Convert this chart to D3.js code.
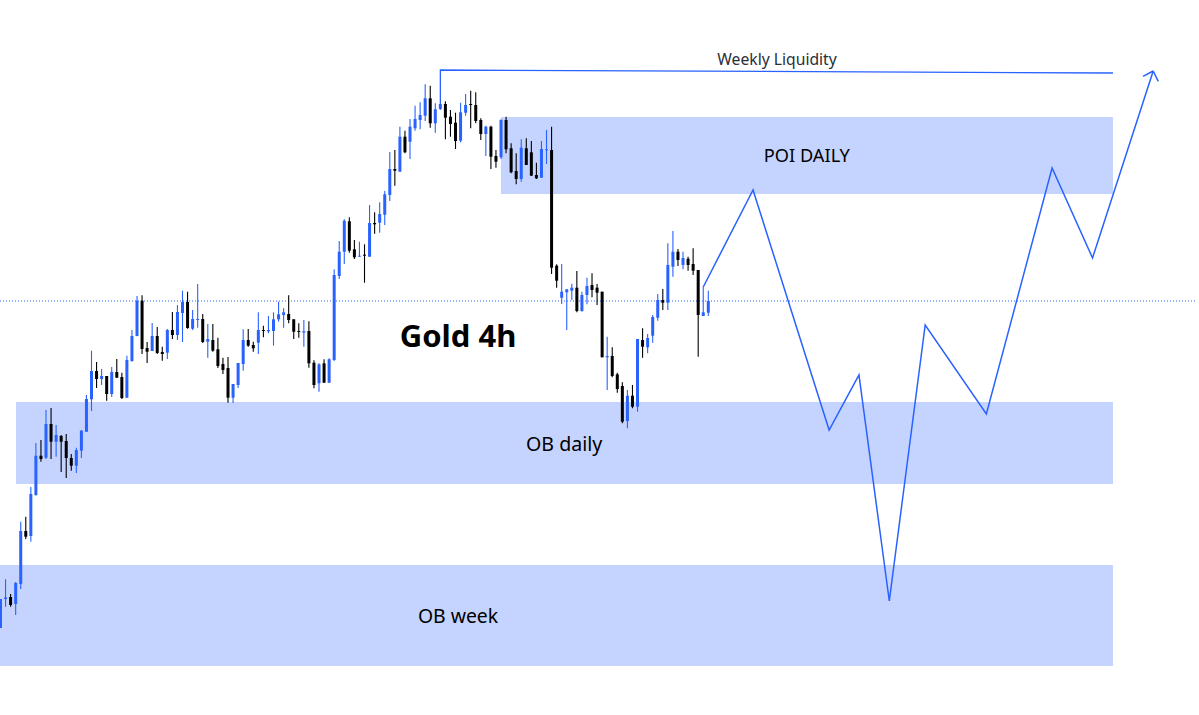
<!DOCTYPE html>
<html>
<head>
<meta charset="utf-8">
<title>Gold 4h</title>
<script src="https://cdn.jsdelivr.net/npm/d3@7"></script>
<style>
    body { margin: 0; background: #fff; }
    text { font-family: "Trebuchet MS", "Noto Sans", sans-serif; text-anchor: middle; dominant-baseline: central; }
</style>
</head>
<body>
<div id="chart"></div>
<script>
// candles (no price axis is shown, so the level is relative)
var opens = [87,116,118,111,131,184,179,220,259.3,257.3,291,273.3,279,274,257,249.3,264.3,283.3,315.7,344,
    336,339,321,343,338,317.3,354,379,414.3,367,364,379,363,362.3,385,380,402,413,386.3,395.3,
    396,373.3,375,365.7,351,347,317.3,330,351,375,370,372.3,385,383.7,384,395.7,400,401,395.7,384,
    382.3,384,352.3,331.7,351.7,332.3,355,439,463.3,493.7,465.7,458.3,460.3,458.3,492,492.3,500.3,520,546,543.3,
    578.3,573.3,586.7,595,599.3,616.7,591.7,606,611,598.3,592.3,574.3,602.3,611,610,595,581,588.3,559,557.7,
    595,566.7,544,536,566.7,562.7,540,537.3,565,565,449.3,417.3,422.7,424.3,427.3,404,420,430,427.3,423.3,
    357.7,359,340.7,329,294,319.3,308.3,375,367.7,379.3,397.3,415,412.3,448.3,463.3,450,456.3,451,445,399,402.3];
var closes = [116,117.5,110,132,184,178.3,221,259.3,256,291,273.3,280,273.3,257,249.3,265,284.3,316,344,336,
    339,321,343,337.3,317,355,379,414.3,366,363.3,379,362,361,385,380,403,413,387,396,396,
    373,376,364.3,349,345,317.3,331,352,375,369.3,366.7,385,384,385,395.7,400.7,402.7,395,383.3,383,
    383.7,351.7,330,350.7,332.3,355.7,440,463.3,494.3,464.3,457.7,459.3,459.3,492,490.7,501,520.7,546,544.3,578.3,
    562.7,588.3,596,600,616.7,591.7,605.7,611,597.3,591,574,602.7,610,610,594,581,588.3,558.3,553.3,595,
    565.7,542.7,536,567.3,550,539.3,536.7,566,565.7,447.3,434.3,423.3,425.7,427.3,404,420,429,425,422.3,357.7,
    359,339,326,293.3,319.3,308.3,376,368.3,377,398,415,412.3,450,463.3,455,457,450,444.3,400,402.7,414];
var highs = [116,135.7,121,133,193.3,198.3,228,272,275,305,307,290,280,281,261,267.3,285,320,364.3,353,
    346,339,348,356,342.3,359.3,385,419,419.7,373,392,388,368.3,386,403,410,424.3,423.3,405,431,
    401,391,391,377.3,357.3,358,331,352,385.7,386,373.3,402.7,389.3,399,402.7,413.3,406.7,419.7,395.7,391.7,
    395,393.7,354.7,351.7,355.7,356.7,445.7,474,495.7,497.7,475,473.3,470.7,510,502.7,512.7,524,563,565,588.3,
    584.3,596,609.3,612.7,630.7,629.3,611.7,611,613.7,605,602.3,612.3,621,624.3,622.7,596.7,589.3,589.3,565,595.7,
    598.3,571.7,561.7,575.7,576.7,574,552.3,574,585,588.3,450.7,451,425.7,431.3,444,423.3,437.3,441.7,431,423.3,
    378.3,367.7,342.3,332.7,325,330,376,386.7,381,400,421,426,471.7,484,466,463.3,458.3,466.7,445,428.3,424.3];
var lows = [87,108.3,108.3,100,126,176,173.3,219.3,253.3,256,256,258.3,243,237,244.3,242,257,283,304,327,
    330,314.3,318,337.3,316,317.3,353.3,378.7,361,352,364,361,354.3,356,376,375,373,386.3,385,387.3,
    372,357.3,363.3,347,341,312.3,312,327,344.3,368.3,363.3,361,377.7,381.7,369.3,393.3,387.3,391.7,376,377.3,
    368.3,347.3,326.7,323.3,332.3,332.3,354,436,451,462.3,456,458.3,432.3,458.3,481.3,482.3,490,514,529.3,543.3,
    561.7,556,584.3,585.7,594,587.3,582.3,605,575.7,578.3,566,572.7,599.3,586.7,591.7,575,559,546,547.3,556,
    561.7,541.7,530.7,533.3,550,539.3,536,537.3,551,441,427.3,411,385,415,402.7,403.3,410.7,417.7,410,357.7,
    325,337.7,322.3,291.7,286.7,306.7,303.3,357.3,361.7,372.3,394.3,405,405,438.3,449,445.7,444.3,440,358.3,399,399];

// supply and demand zones
var zoneNames = ["POI DAILY", "OB daily", "OB week"];
var zoneFrom = [98.99, 3.07, -0.1];
var zoneTo = [220.05, 220.05, 220.05];
var zoneTop = [598, 313, 150];
var zoneBottom = [521, 231, 49];

// hand drawn projection
var pathTime = [139, 148.85, 163.9, 169.8, 175.8, 182.9, 195, 208, 216, 228];
var pathLevel = [428, 525, 285, 340, 114, 390, 301, 547, 457, 644];

// liquidity line from the top candle
var liquidityTime = [87, 87, 220.05];
var liquidityLevel = [611, 645, 642];

var lastLevel = 414;
var lastLevelEnd = 236.5;

// free text on the chart
var labelText = ["Weekly Liquidity", "POI DAILY", "Gold 4h", "OB daily", "OB week"];
var labelTime = [153.6, 159.5, 90.5, 111.5, 90.5];
var labelLevel = [656, 560, 380, 272, 100];
var labelSize = [15.7, 18.2, 31, 19.6, 19.4];
var labelWeight = [400, 400, 700, 400, 400];
var labelColor = ["#2a2e39", "#000", "#000", "#000", "#000"];

var width = 1199, height = 715;
var blue = "#2962ff";

var x = d3.scaleLinear().domain([0, 140]).range([0.5, 708.3]);
var y = d3.scaleLinear().domain([0, 715]).range([715, 0]);

var svg = d3.select("#chart").append("svg")
    .attr("width", width)
    .attr("height", height)
    .style("display", "block");

// zones go first, candles sit on top of them
svg.append("g").selectAll("rect")
    .data(zoneNames)
    .join("rect")
    .attr("x", function(d, i) { return x(zoneFrom[i]); })
    .attr("y", function(d, i) { return y(zoneTop[i]); })
    .attr("width", function(d, i) { return x(zoneTo[i]) - x(zoneFrom[i]); })
    .attr("height", function(d, i) { return y(zoneBottom[i]) - y(zoneTop[i]); })
    .attr("fill", "#c5d4ff");

svg.append("line")
    .attr("x1", x(0) - 0.5)
    .attr("x2", x(lastLevelEnd))
    .attr("y1", y(lastLevel))
    .attr("y2", y(lastLevel))
    .attr("stroke", blue)
    .attr("stroke-width", 1)
    .attr("stroke-dasharray", "1 2");

var candles = svg.append("g").selectAll("g")
    .data(opens)
    .join("g")
    .attr("fill", function(d, i) { return closes[i] >= d ? blue : "#000"; })
    .attr("stroke", function(d, i) { return closes[i] >= d ? blue : "#000"; });

candles.append("line")
    .attr("x1", function(d, i) { return x(i); })
    .attr("x2", function(d, i) { return x(i); })
    .attr("y1", function(d, i) { return y(highs[i]); })
    .attr("y2", function(d, i) { return y(lows[i]); })
    .attr("stroke-width", 1.1);

candles.append("rect")
    .attr("x", function(d, i) { return x(i) - 1.5; })
    .attr("width", 3)
    .attr("y", function(d, i) { return y(Math.max(d, closes[i])); })
    .attr("height", function(d, i) { return Math.max(1, Math.abs(y(d) - y(closes[i]))); })
    .attr("stroke", "none");

var line = d3.line()
    .x(function(d) { return x(d[0]); })
    .y(function(d) { return y(d[1]); });

svg.append("path")
    .attr("d", line(d3.zip(liquidityTime, liquidityLevel)))
    .attr("fill", "none")
    .attr("stroke", blue)
    .attr("stroke-width", 1.3);

svg.append("path")
    .attr("d", line(d3.zip(pathTime, pathLevel)))
    .attr("fill", "none")
    .attr("stroke", blue)
    .attr("stroke-width", 1.5);

// arrow head, two short strokes back from the last point
var n = pathTime.length - 1;
var tipX = x(pathTime[n]), tipY = y(pathLevel[n]);
var back = Math.atan2(y(pathLevel[n - 1]) - tipY, x(pathTime[n - 1]) - tipX);
[-0.77, 0.77].forEach(function(a) {
    svg.append("line")
        .attr("x1", tipX)
        .attr("y1", tipY)
        .attr("x2", tipX + 11.5 * Math.cos(back + a))
        .attr("y2", tipY + 11.5 * Math.sin(back + a))
        .attr("stroke", blue)
        .attr("stroke-width", 1.5);
});

svg.append("g").selectAll("text")
    .data(labelText)
    .join("text")
    .attr("x", function(d, i) { return x(labelTime[i]); })
    .attr("y", function(d, i) { return y(labelLevel[i]); })
    .attr("font-size", function(d, i) { return labelSize[i]; })
    .attr("font-weight", function(d, i) { return labelWeight[i]; })
    .attr("fill", function(d, i) { return labelColor[i]; })
    .text(function(d) { return d; });
</script>
</body>
</html>
